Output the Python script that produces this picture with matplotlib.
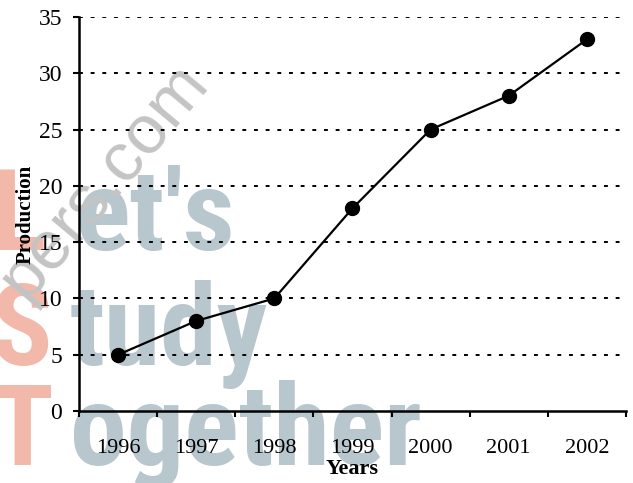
import matplotlib
matplotlib.use('Agg')
import matplotlib.pyplot as plt
from matplotlib import font_manager

years = ['1996', '1997', '1998', '1999', '2000', '2001', '2002']
production = [5, 8, 10, 18, 25, 28, 33]
y_ticks = [0, 5, 10, 15, 20, 25, 30, 35]

plt.rcParams['font.family'] = ['Liberation Serif', 'DejaVu Serif']

# narrow face for the watermark if one is installed
names = {f.name for f in font_manager.fontManager.ttflist}
wm_font = 'Liberation Sans'
wm_size = 72
for cand in ['Liberation Sans Narrow', 'Roboto Condensed']:
    if cand in names:
        wm_font = cand
        wm_size = 82
        break

fig = plt.figure(figsize=(6.33, 4.83), dpi=100)
ax = fig.add_axes([0.1248, 0.149, 0.864, 0.816])
ax.patch.set_alpha(0)

# watermark behind the chart
red = '#f2b9aa'
grey = '#b8c6ce'
wm = dict(family=wm_font, weight='bold', fontsize=wm_size, zorder=-5)
for first, rest, y, xr in [("L", "et's", 0.482, 0.12), ("S", "tudy", 0.244, 0.11),
                           ("T", "ogether", 0.037, 0.11)]:
    fig.text(-0.014, y, first, color=red, **wm)
    fig.text(xr, y, rest, color=grey, **wm)
fig.text(-0.02, 0.385, 'pers.com', color='#c4c4c4', rotation=50,
         family='Liberation Sans', fontsize=50, zorder=-5)

x = list(range(len(years)))
ax.plot(x, production, color='black', lw=1.6, marker='o', ms=10, zorder=3)

ax.set_xlim(-0.5, len(years) - 0.5)
ax.set_ylim(0, 35)
ax.set_yticks(y_ticks)
ax.set_yticklabels([str(v) for v in y_ticks])
ax.set_xticks(x)
ax.set_xticklabels(years)
ax.set_xticks([i - 0.5 for i in range(len(years) + 1)], minor=True)

for v in y_ticks[1:]:
    ax.axhline(v, color='black', lw=1.4, ls=(0, (2, 4)), zorder=1)

for s in ['top', 'right']:
    ax.spines[s].set_visible(False)
ax.spines['left'].set_linewidth(1.8)
ax.spines['bottom'].set_linewidth(1.8)

ax.tick_params(axis='y', direction='out', length=4, width=1.5, pad=8, labelsize=17)
ax.tick_params(axis='x', which='major', length=0, pad=20, labelsize=16)
ax.tick_params(axis='x', which='minor', direction='out', length=4, width=1.5)

ax.set_xlabel('Years', fontsize=16, fontweight='bold', labelpad=1)
ax.set_ylabel('Production', fontsize=15, fontweight='bold', labelpad=2)

fig.savefig('out.png', dpi=100)
